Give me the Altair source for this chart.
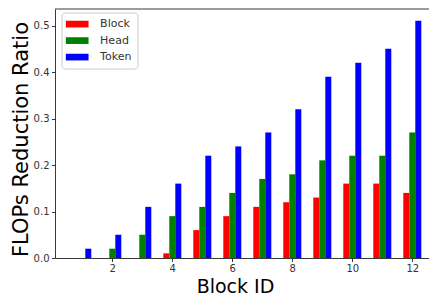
import altair as alt
import pandas as pd

blocks = [1, 2, 3, 4, 5, 6, 7, 8, 9, 10, 11, 12]
block_vals = [0.0, 0.0, 0.0, 0.01, 0.06, 0.09, 0.11, 0.12, 0.13, 0.16, 0.16, 0.14]
head_vals = [0.0, 0.02, 0.05, 0.09, 0.11, 0.14, 0.17, 0.18, 0.21, 0.22, 0.22, 0.27]
token_vals = [0.02, 0.05, 0.11, 0.16, 0.22, 0.24, 0.27, 0.32, 0.39, 0.42, 0.45, 0.51]
series_names = ["Block", "Head", "Token"]
series_colors = ["#ff0000", "#008000", "#0000ff"]
x_ticks = [2, 4, 6, 8, 10, 12]
y_ticks = [0.0, 0.1, 0.2, 0.3, 0.4, 0.5]

bar_w = 0.2
offsets = [-0.2, 0.0, 0.2]
rows = []
for name, off, vals in zip(series_names, offsets, [block_vals, head_vals, token_vals]):
    for b, v in zip(blocks, vals):
        rows.append({"series": name, "left": b + off - bar_w / 2,
                     "right": b + off + bar_w / 2, "value": v, "base": 0.0})
df = pd.DataFrame(rows)

W, H = 374, 249
FONT = "DejaVu Sans"

bars = alt.Chart(df).mark_bar(strokeWidth=0).encode(
    x=alt.X("left:Q",
            scale=alt.Scale(domain=[0.09, 12.5567], nice=False, zero=False, padding=0),
            axis=alt.Axis(values=x_ticks, format="d", title="Block ID",
                          titleFontSize=19, titleX=180, titleY=34, labelPadding=2,
                          titleBaseline="alphabetic", titleAlign="center")),
    x2="right:Q",
    y=alt.Y("value:Q",
            scale=alt.Scale(domain=[0, 0.5355], nice=False, padding=0),
            axis=alt.Axis(values=y_ticks, format=".1f", title="FLOPs Reduction Ratio",
                          titleFontSize=21, titleX=-28, titleY=130, titleAngle=270,
                          titleBaseline="alphabetic", titleAlign="center")),
    y2="base:Q",
    color=alt.Color("series:N",
                    scale=alt.Scale(domain=series_names, range=series_colors),
                    legend=alt.Legend(title=None, orient="none", legendX=6.5, legendY=3.5,
                                      symbolType="M-1.28,-0.59L2.72,-0.59L2.72,0.59L-1.28,0.59Z",
                                      symbolSize=129, symbolStrokeWidth=0,
                                      symbolOpacity=1,
                                      padding=5.6, rowPadding=5.5, labelOffset=21,
                                      labelFont=FONT, labelFontSize=11, labelColor="#333",
                                      strokeColor="#cccccc", fillColor="white",
                                      cornerRadius=3)),
)

top_spine = alt.Chart(pd.DataFrame({"a": [0]})).mark_rule(color="#222", strokeWidth=0.9).encode(
    x=alt.value(0), x2=alt.value(W), y=alt.value(0)
)

chart = alt.layer(bars, top_spine).properties(
    width=W, height=H,
    autosize=alt.AutoSizeParams(type="none"),
    padding={"left": 47, "top": 1, "right": 0, "bottom": 38},
).configure_view(stroke=None).configure_axis(
    grid=False, labelFont=FONT, titleFont=FONT, labelFontSize=10,
    labelColor="#333", titleColor="#000", titleFontWeight="normal",
    domainColor="#222", domainWidth=0.9, tickColor="#222", tickSize=3.5,
    tickWidth=0.9, labelPadding=2.5,
)

chart.save("out.html", embed_options={"renderer": "svg", "actions": False})
